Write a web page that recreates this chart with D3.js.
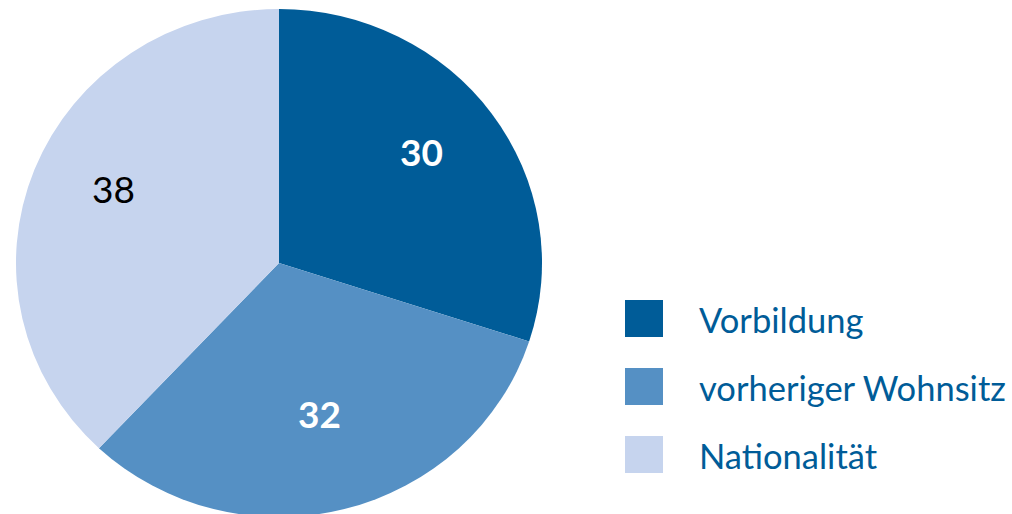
<!DOCTYPE html>
<html><head><meta charset="utf-8">
<script src="https://cdn.jsdelivr.net/npm/d3@7"></script>
<style>html,body{margin:0;padding:0;background:#fff;overflow:hidden}</style>
</head><body>
<svg id="c" width="1012" height="514"></svg>
<script>
const categories = ["Vorbildung", "vorheriger Wohnsitz", "Nationalität"];
const values = [30, 32, 38];
const colors = ["#005C98", "#5590C4", "#C6D4EE"];
const labelColors = ["#ffffff", "#ffffff", "#000000"];
const labelWeights = ["bold", "bold", "normal"];

const svg = d3.select("#c");
const cx = 279, cy = 263, rx = 263, ry = 254;

const pie = d3.pie().sort(null).value(d => d);
const arcs = pie(values);
const arc = d3.arc().innerRadius(0).outerRadius(rx);

const g = svg.append("g").attr("transform", `translate(${cx},${cy}) scale(1,${ry/rx})`);
g.selectAll("path").data(arcs).enter().append("path")
  .attr("d", arc).attr("fill", (d,i) => colors[i]);

const labelR = [176, 163, 178];
const labelShift = [-10, 0, -10];
svg.append("g").attr("transform", `translate(${cx},${cy})`)
  .selectAll("text").data(arcs).enter().append("text")
  .attr("x", (d,i) => Math.sin((d.startAngle+d.endAngle)/2) * labelR[i])
  .attr("y", (d,i) => -Math.cos((d.startAngle+d.endAngle)/2) * labelR[i] * ry/rx + labelShift[i] + 13)
  .attr("text-anchor", "middle")
  .attr("font-family", "Lato, 'Open Sans', sans-serif")
  .attr("font-size", 37)
  .attr("font-weight", (d,i) => labelWeights[i])
  .attr("fill", (d,i) => labelColors[i])
  .text(d => d.data);

const leg = svg.append("g");
const rows = leg.selectAll("g").data(categories).enter().append("g")
  .attr("transform", (d,i) => `translate(625,${300 + i*68})`);
rows.append("rect").attr("width", 38).attr("height", 37).attr("fill", (d,i) => colors[i]);
rows.append("text").attr("x", 74).attr("y", 33)
  .attr("font-family", "Lato, 'Open Sans', sans-serif")
  .attr("font-size", 34.5).attr("fill", "#005C98")
  .text(d => d);
</script>
</body></html>
